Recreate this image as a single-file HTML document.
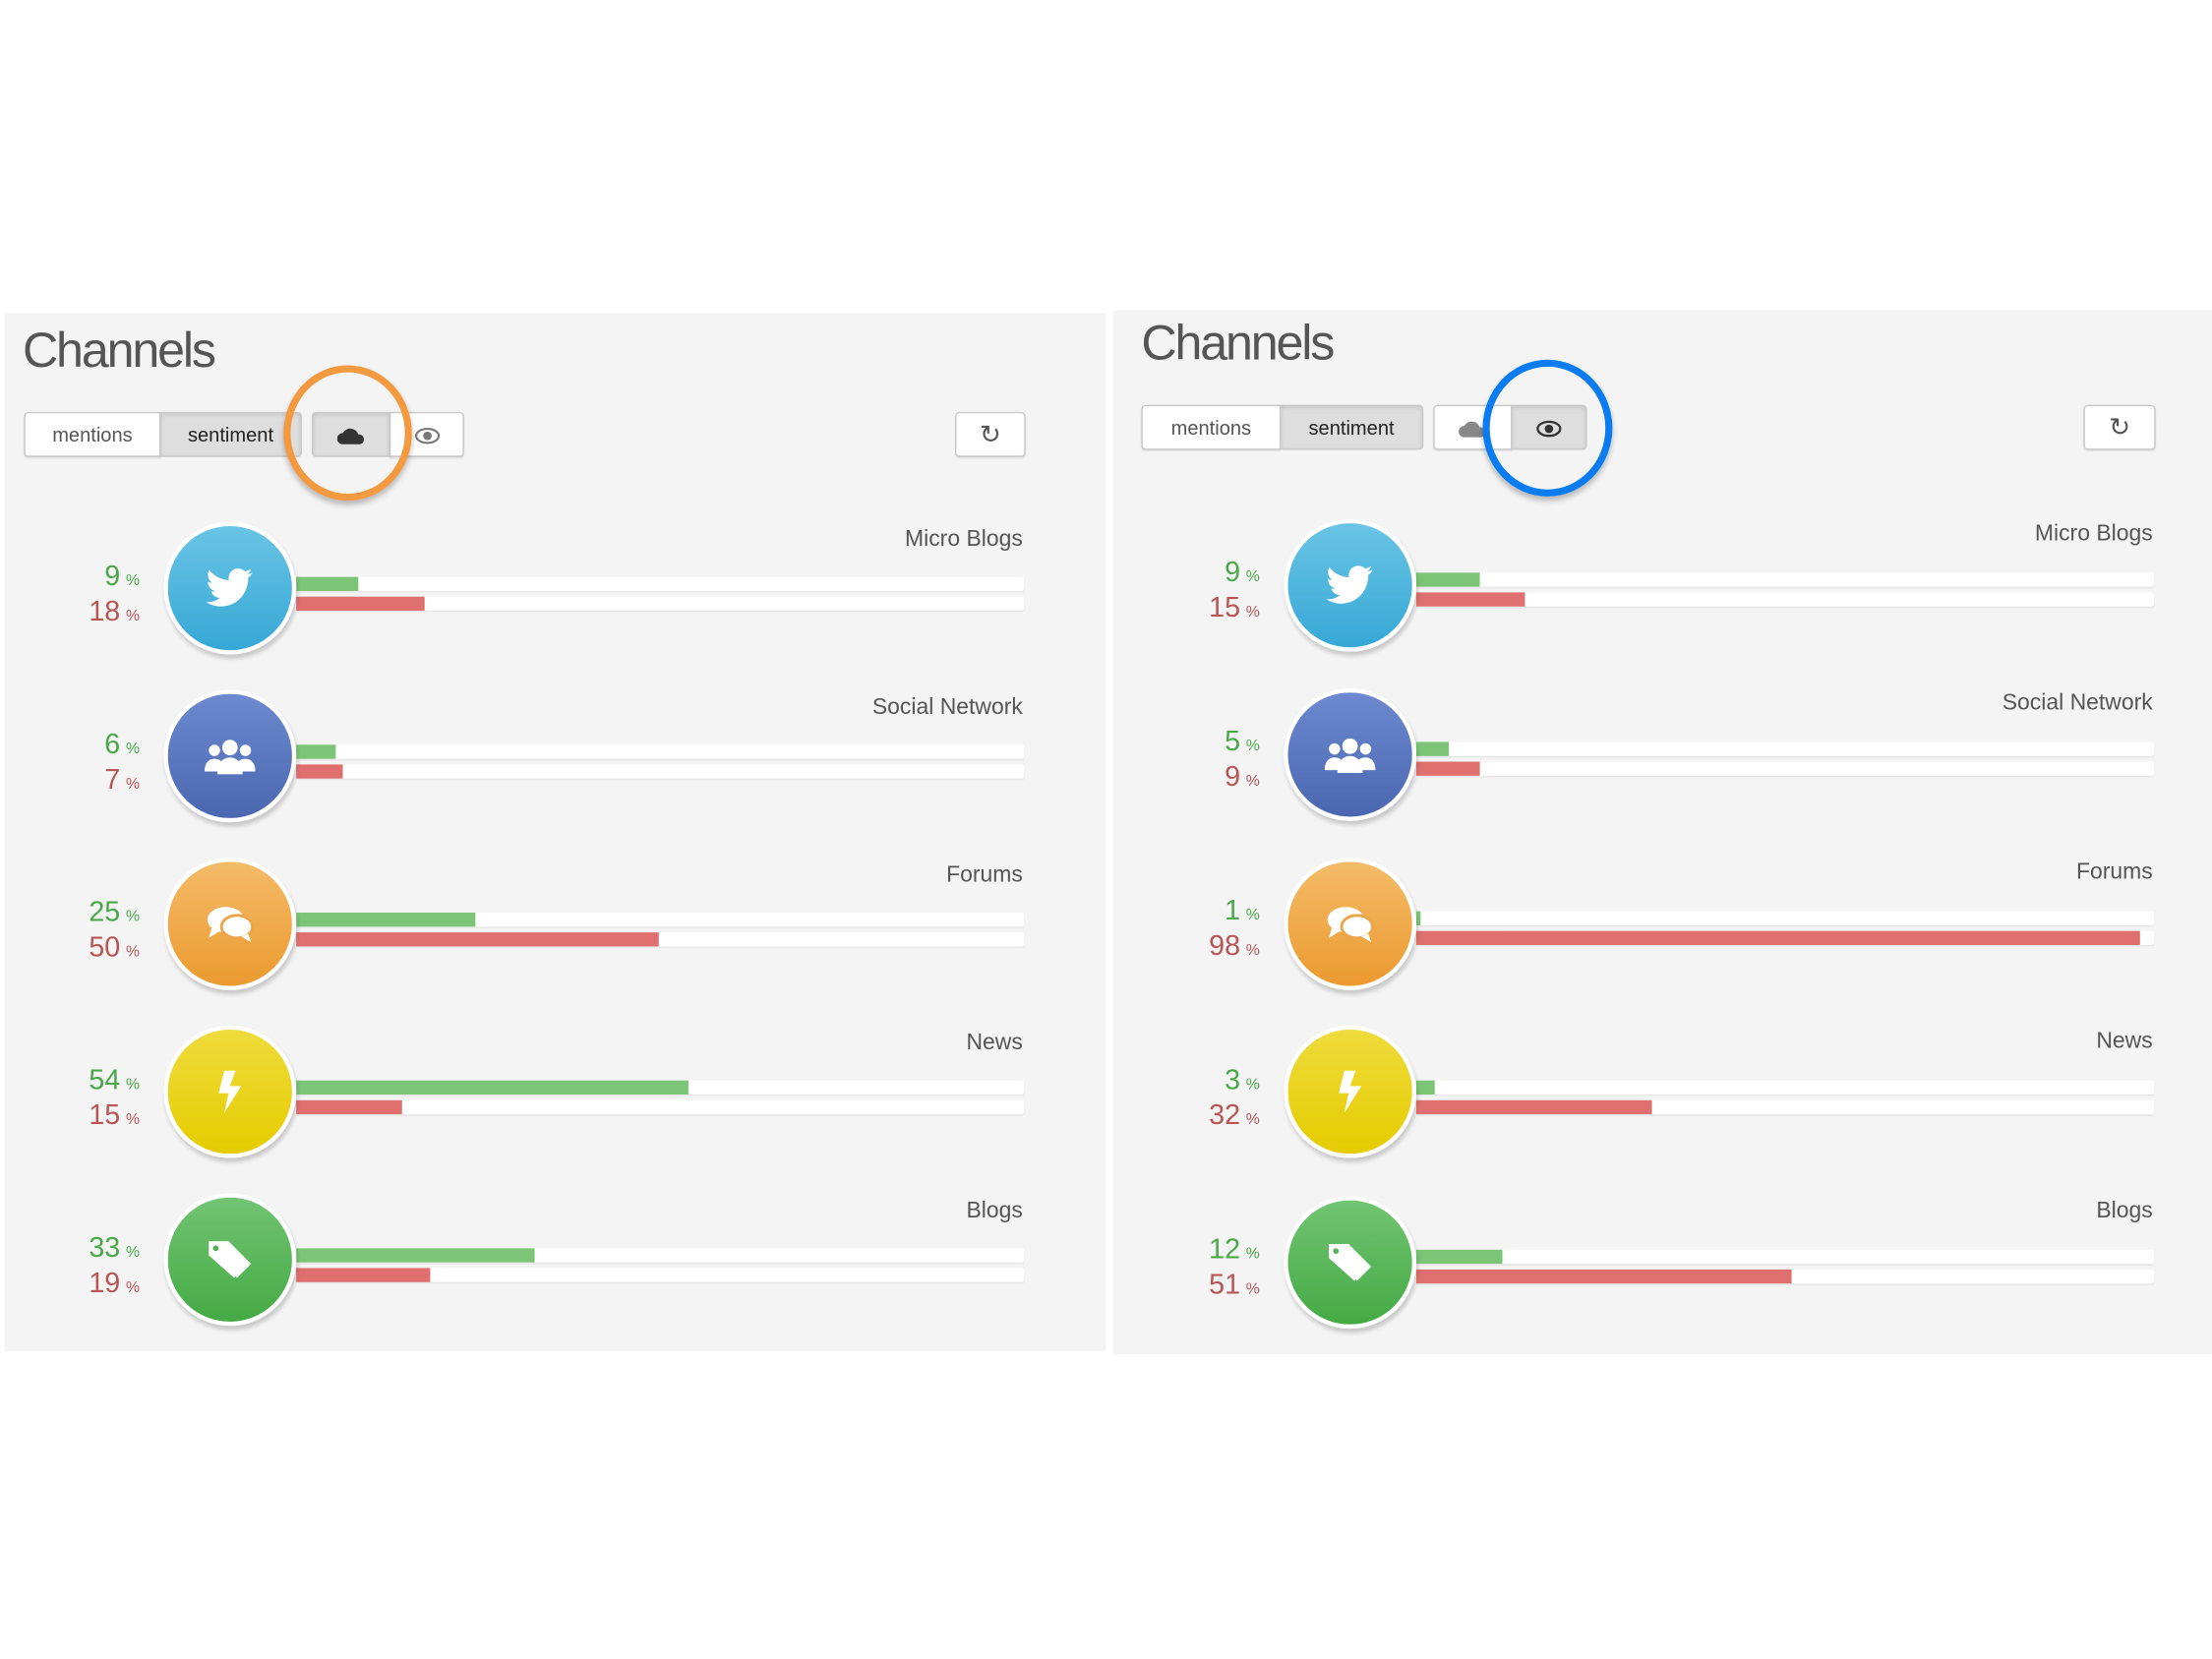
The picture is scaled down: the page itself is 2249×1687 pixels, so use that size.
<!DOCTYPE html>
<html><head><meta charset="utf-8">
<style>
html,body{margin:0;padding:0;background:#fff;}
body{width:2249px;height:1687px;overflow:hidden;position:relative;font-family:"Liberation Sans",sans-serif;}
#w{position:absolute;left:0;top:0;width:1568px;height:1176px;transform:scale(1.4343);transform-origin:0 0;}
.p{position:absolute;background:#f4f4f4;}
.a{position:absolute;}
.h{font-size:35px;color:#555;letter-spacing:-1.5px;font-weight:normal;}
.btn{position:absolute;box-sizing:border-box;border:1px solid #c8c8c8;background:#fff;font-size:14px;color:#555;text-align:center;line-height:30px;height:32px;border-radius:3px;box-shadow:0 1px 1px rgba(0,0,0,.08);}
.on{background:#dedede;color:#222;box-shadow:inset 0 1px 3px rgba(0,0,0,.12);}
.lbl{position:absolute;font-size:16px;color:#555;text-align:right;width:200px;}
.tr{position:absolute;height:10px;background:#fff;border-radius:2px;box-shadow:0 1px 1px rgba(0,0,0,.05);}
.g{position:absolute;height:10px;background:#7cc576;}
.r{position:absolute;height:10px;background:#e07070;}
.pc{position:absolute;width:90px;text-align:right;font-size:20px;line-height:22px;}
.pc small{font-size:11px;margin-left:4px;}
.gr{color:#4aa84a;}.rd{color:#b85555;}
.c{position:absolute;width:88px;height:88px;border-radius:50%;border:3px solid #fff;box-shadow:1px 3px 3px rgba(0,0,0,.18);display:flex;align-items:center;justify-content:center;}
.ring{position:absolute;border-radius:50%;box-sizing:border-box;box-shadow:0 3px 4px rgba(0,0,0,.25);}
</style></head><body><div id="w">

<!-- LEFT PANEL -->
<div class="p" style="left:3px;top:222px;width:781px;height:736px;"></div>
<div class="a h" style="left:16px;top:229px;">Channels</div>
<div class="btn" style="left:17px;top:292px;width:97px;border-radius:3px 0 0 3px;">mentions</div>
<div class="btn on" style="left:113px;top:292px;width:101px;border-radius:0 3px 3px 0;">sentiment</div>
<div class="btn on" style="left:221px;top:292px;width:56px;border-radius:3px 0 0 3px;"><svg width="20" height="14" viewBox="0 0 20 14" style="margin-top:9px"><path d="M4 13a4 4 0 0 1 0-8a6 6 0 0 1 11 1a3.5 3.5 0 0 1 1 7z" fill="#333"/></svg></div>
<div class="btn" style="left:276px;top:292px;width:53px;border-radius:0 3px 3px 0;"><svg width="18" height="12" viewBox="0 0 18 12" style="margin-top:10px"><ellipse cx="9" cy="6" rx="8" ry="5" fill="none" stroke="#777" stroke-width="1.5"/><circle cx="9" cy="6" r="3" fill="#777"/></svg></div>
<div class="btn" style="left:677px;top:292px;width:50px;font-size:18px;">&#8635;</div>
<div class="ring" style="left:201px;top:259px;width:91px;height:96px;border:5px solid #f39a40;"></div>

<!-- RIGHT PANEL -->
<div class="p" style="left:789px;top:220px;width:779px;height:740px;"></div>
<div class="a h" style="left:809px;top:224px;">Channels</div>
<div class="btn" style="left:809px;top:287px;width:99px;border-radius:3px 0 0 3px;">mentions</div>
<div class="btn on" style="left:907px;top:287px;width:102px;border-radius:0 3px 3px 0;">sentiment</div>
<div class="btn" style="left:1016px;top:287px;width:56px;border-radius:3px 0 0 3px;"><svg width="20" height="14" viewBox="0 0 20 14" style="margin-top:9px"><path d="M4 13a4 4 0 0 1 0-8a6 6 0 0 1 11 1a3.5 3.5 0 0 1 1 7z" fill="#888"/></svg></div>
<div class="btn on" style="left:1071px;top:287px;width:54px;border-radius:0 3px 3px 0;"><svg width="18" height="12" viewBox="0 0 18 12" style="margin-top:10px"><ellipse cx="9" cy="6" rx="8" ry="5" fill="none" stroke="#333" stroke-width="1.6"/><circle cx="9" cy="6" r="3" fill="#333"/></svg></div>
<div class="btn" style="left:1477px;top:287px;width:51px;font-size:18px;">&#8635;</div>
<div class="ring" style="left:1051px;top:255px;width:92px;height:97px;border:5px solid #0a7cf0;"></div>

<!-- LEFT ROWS (bar 210-726, width 516) -->
<!-- row1 cy 417 -->
<div class="lbl" style="left:525px;top:374px;">Micro Blogs</div>
<div class="tr" style="left:210px;top:409px;width:516px;"></div><div class="g" style="left:210px;top:409px;width:44px;"></div>
<div class="tr" style="left:210px;top:423px;width:516px;"></div><div class="r" style="left:210px;top:423px;width:91px;"></div>
<div class="pc gr" style="left:9px;top:398px;">9<small>%</small></div>
<div class="pc rd" style="left:9px;top:423px;">18<small>%</small></div>
<div class="c" style="left:116px;top:370px;background:linear-gradient(#6ac4e4,#36a8d6);"><svg width="34" height="28" viewBox="0 0 34 28"><path d="M33 3c-1.2.6-2.5.9-3.9 1.1 1.4-.8 2.4-2.2 2.9-3.7-1.3.8-2.8 1.3-4.3 1.7A6.8 6.8 0 0 0 16.2 8.3C10.6 8 5.600 5.3 2.3 1.2c-1.800 3.100-.8 7 2.100 9-1.100 0-2.100-.3-3.100-.8 0 3.300 2.300 6.100 5.400 6.700-1 .3-2 .3-3.100.1.900 2.700 3.400 4.700 6.300 4.700A13.600 13.600 0 0 1 0 23.800 19.300 19.300 0 0 0 10.400 27c12.600 0 19.500-10.500 19.500-19.500v-.9C31.200 5.700 32.300 4.400 33 3z" fill="#fff"/></svg></div>

<!-- row2 cy 536 -->
<div class="lbl" style="left:525px;top:493px;">Social Network</div>
<div class="tr" style="left:210px;top:528px;width:516px;"></div><div class="g" style="left:210px;top:528px;width:28px;"></div>
<div class="tr" style="left:210px;top:542px;width:516px;"></div><div class="r" style="left:210px;top:542px;width:33px;"></div>
<div class="pc gr" style="left:9px;top:517px;">6<small>%</small></div>
<div class="pc rd" style="left:9px;top:542px;">7<small>%</small></div>
<div class="c" style="left:116px;top:489px;background:linear-gradient(#6d8ad0,#4a66b0);"><svg width="36" height="28" viewBox="0 0 36 28"><circle cx="18" cy="8" r="5.5" fill="#fff"/><circle cx="7" cy="10" r="4" fill="#fff"/><circle cx="29" cy="10" r="4" fill="#fff"/><path d="M9 27c0-8 4-12 9-12s9 4 9 12z" fill="#fff"/><path d="M0 25c0-6 3-9 7-9s5 2 5 2l-2 7z" fill="#fff"/><path d="M36 25c0-6-3-9-7-9s-5 2-5 2l2 7z" fill="#fff"/></svg></div>

<!-- row3 cy 655 -->
<div class="lbl" style="left:525px;top:612px;">Forums</div>
<div class="tr" style="left:210px;top:647px;width:516px;"></div><div class="g" style="left:210px;top:647px;width:127px;"></div>
<div class="tr" style="left:210px;top:661px;width:516px;"></div><div class="r" style="left:210px;top:661px;width:257px;"></div>
<div class="pc gr" style="left:9px;top:636px;">25<small>%</small></div>
<div class="pc rd" style="left:9px;top:661px;">50<small>%</small></div>
<div class="c" style="left:116px;top:608px;background:linear-gradient(#f5bb68,#eb9a30);"><svg width="34" height="28" viewBox="0 0 34 28"><ellipse cx="14" cy="11" rx="13" ry="9" fill="#fff"/><path d="M4 17l-2 7 8-5z" fill="#fff"/><ellipse cx="22" cy="16" rx="11" ry="8" fill="#fff" stroke="#eea448" stroke-width="2"/><path d="M30 21l2 6-7-4z" fill="#fff"/></svg></div>

<!-- row4 cy 774 -->
<div class="lbl" style="left:525px;top:731px;">News</div>
<div class="tr" style="left:210px;top:766px;width:516px;"></div><div class="g" style="left:210px;top:766px;width:278px;"></div>
<div class="tr" style="left:210px;top:780px;width:516px;"></div><div class="r" style="left:210px;top:780px;width:75px;"></div>
<div class="pc gr" style="left:9px;top:755px;">54<small>%</small></div>
<div class="pc rd" style="left:9px;top:780px;">15<small>%</small></div>
<div class="c" style="left:116px;top:727px;background:linear-gradient(#efdb3c,#e5cc00);"><svg width="18" height="30" viewBox="0 0 18 30"><path d="M5 0h8l-4 11h8L5 30l3-14H1z" fill="#fff"/></svg></div>

<!-- row5 cy 893 -->
<div class="lbl" style="left:525px;top:850px;">Blogs</div>
<div class="tr" style="left:210px;top:885px;width:516px;"></div><div class="g" style="left:210px;top:885px;width:169px;"></div>
<div class="tr" style="left:210px;top:899px;width:516px;"></div><div class="r" style="left:210px;top:899px;width:95px;"></div>
<div class="pc gr" style="left:9px;top:874px;">33<small>%</small></div>
<div class="pc rd" style="left:9px;top:899px;">19<small>%</small></div>
<div class="c" style="left:116px;top:846px;background:linear-gradient(#72c472,#44aa44);"><svg width="34" height="30" viewBox="0 0 34 30"><path d="M2 2h12l16 16-10 10L2 12z" fill="#fff"/><path d="M18 2h2l16 16-10 10-1-1 9-9z" fill="#fff" transform="translate(-4 0)"/><circle cx="7" cy="7" r="2" fill="#55b055"/></svg></div>

<!-- RIGHT ROWS (bar 1004-1527, width 523) -->
<div class="lbl" style="left:1326px;top:370px;">Micro Blogs</div>
<div class="tr" style="left:1004px;top:406px;width:523px;"></div><div class="g" style="left:1004px;top:406px;width:45px;"></div>
<div class="tr" style="left:1004px;top:420px;width:523px;"></div><div class="r" style="left:1004px;top:420px;width:77px;"></div>
<div class="pc gr" style="left:803px;top:395px;">9<small>%</small></div>
<div class="pc rd" style="left:803px;top:420px;">15<small>%</small></div>
<div class="c" style="left:910px;top:368px;background:linear-gradient(#6ac4e4,#36a8d6);"><svg width="34" height="28" viewBox="0 0 34 28"><path d="M33 3c-1.2.6-2.5.9-3.9 1.1 1.4-.8 2.4-2.2 2.9-3.7-1.3.8-2.8 1.3-4.3 1.7A6.8 6.8 0 0 0 16.2 8.3C10.6 8 5.600 5.3 2.3 1.2c-1.800 3.100-.8 7 2.100 9-1.100 0-2.100-.3-3.100-.8 0 3.300 2.300 6.100 5.400 6.700-1 .3-2 .3-3.100.1.900 2.700 3.400 4.700 6.300 4.700A13.600 13.600 0 0 1 0 23.800 19.300 19.300 0 0 0 10.400 27c12.600 0 19.500-10.500 19.500-19.500v-.9C31.200 5.700 32.300 4.400 33 3z" fill="#fff"/></svg></div>

<div class="lbl" style="left:1326px;top:490px;">Social Network</div>
<div class="tr" style="left:1004px;top:526px;width:523px;"></div><div class="g" style="left:1004px;top:526px;width:23px;"></div>
<div class="tr" style="left:1004px;top:540px;width:523px;"></div><div class="r" style="left:1004px;top:540px;width:45px;"></div>
<div class="pc gr" style="left:803px;top:515px;">5<small>%</small></div>
<div class="pc rd" style="left:803px;top:540px;">9<small>%</small></div>
<div class="c" style="left:910px;top:488px;background:linear-gradient(#6d8ad0,#4a66b0);"><svg width="36" height="28" viewBox="0 0 36 28"><circle cx="18" cy="8" r="5.5" fill="#fff"/><circle cx="7" cy="10" r="4" fill="#fff"/><circle cx="29" cy="10" r="4" fill="#fff"/><path d="M9 27c0-8 4-12 9-12s9 4 9 12z" fill="#fff"/><path d="M0 25c0-6 3-9 7-9s5 2 5 2l-2 7z" fill="#fff"/><path d="M36 25c0-6-3-9-7-9s-5 2-5 2l2 7z" fill="#fff"/></svg></div>

<div class="lbl" style="left:1326px;top:610px;">Forums</div>
<div class="tr" style="left:1004px;top:646px;width:523px;"></div><div class="g" style="left:1004px;top:646px;width:3px;"></div>
<div class="tr" style="left:1004px;top:660px;width:523px;"></div><div class="r" style="left:1004px;top:660px;width:513px;"></div>
<div class="pc gr" style="left:803px;top:635px;">1<small>%</small></div>
<div class="pc rd" style="left:803px;top:660px;">98<small>%</small></div>
<div class="c" style="left:910px;top:608px;background:linear-gradient(#f5bb68,#eb9a30);"><svg width="34" height="28" viewBox="0 0 34 28"><ellipse cx="14" cy="11" rx="13" ry="9" fill="#fff"/><path d="M4 17l-2 7 8-5z" fill="#fff"/><ellipse cx="22" cy="16" rx="11" ry="8" fill="#fff" stroke="#eea448" stroke-width="2"/><path d="M30 21l2 6-7-4z" fill="#fff"/></svg></div>

<div class="lbl" style="left:1326px;top:730px;">News</div>
<div class="tr" style="left:1004px;top:766px;width:523px;"></div><div class="g" style="left:1004px;top:766px;width:13px;"></div>
<div class="tr" style="left:1004px;top:780px;width:523px;"></div><div class="r" style="left:1004px;top:780px;width:167px;"></div>
<div class="pc gr" style="left:803px;top:755px;">3<small>%</small></div>
<div class="pc rd" style="left:803px;top:780px;">32<small>%</small></div>
<div class="c" style="left:910px;top:727px;background:linear-gradient(#efdb3c,#e5cc00);"><svg width="18" height="30" viewBox="0 0 18 30"><path d="M5 0h8l-4 11h8L5 30l3-14H1z" fill="#fff"/></svg></div>

<div class="lbl" style="left:1326px;top:850px;">Blogs</div>
<div class="tr" style="left:1004px;top:886px;width:523px;"></div><div class="g" style="left:1004px;top:886px;width:61px;"></div>
<div class="tr" style="left:1004px;top:900px;width:523px;"></div><div class="r" style="left:1004px;top:900px;width:266px;"></div>
<div class="pc gr" style="left:803px;top:875px;">12<small>%</small></div>
<div class="pc rd" style="left:803px;top:900px;">51<small>%</small></div>
<div class="c" style="left:910px;top:848px;background:linear-gradient(#72c472,#44aa44);"><svg width="34" height="30" viewBox="0 0 34 30"><path d="M2 2h12l16 16-10 10L2 12z" fill="#fff"/><path d="M18 2h2l16 16-10 10-1-1 9-9z" fill="#fff" transform="translate(-4 0)"/><circle cx="7" cy="7" r="2" fill="#55b055"/></svg></div>

</div></body></html>
